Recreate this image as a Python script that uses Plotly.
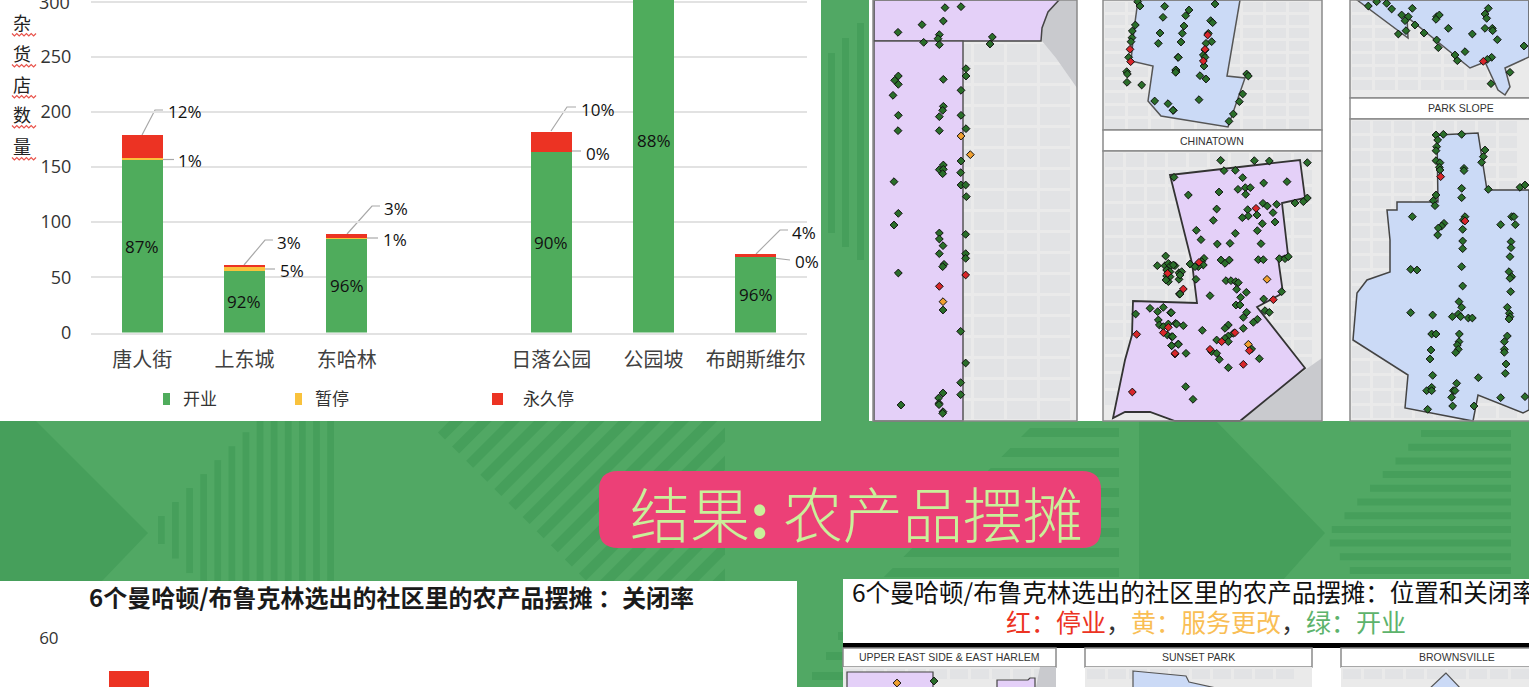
import plotly.graph_objects as go

W, H = 1529, 687
# ---------- chart data ----------
categories = ["唐人街", "上东城", "东哈林", " ", "日落公园", "公园坡", "布朗斯维尔"]
open_values = [156, 56, 85.5, None, 164, 348, 68]
paused_values = [2, 3.5, 0.5, None, 0, 0, 0]
closed_values = [21, 1.5, 3, None, 18, 47, 3]
open_labels = ["87%", "92%", "96%", None, "90%", "88%", "96%"]
y_ticks = [0, 50, 100, 150, 200, 250, 300]
closure_values = [54.5]
axis_title_chars = ["杂", "货", "店", "数", "量"]

# callout labels: text, label centre, leader-line vertices (page pixels)
callouts = [
    ("12%", 185, 111, [(142, 135), (155, 110), (163, 110)]),
    ("1%", 190, 160, [(163, 159.5), (174, 159.5)]),
    ("3%", 289, 242, [(244, 265), (265, 240), (273, 240)]),
    ("5%", 292, 270, [(265, 269), (275, 269)]),
    ("3%", 396, 208, [(347, 234), (372, 206), (380, 206)]),
    ("1%", 395, 239, [(367, 238), (378, 238)]),
    ("10%", 598, 109, [(551, 131), (567, 107), (576, 107)]),
    ("0%", 598, 153, [(572, 151), (581, 151)]),
    ("4%", 804, 232, [(756, 254), (780, 230), (788, 230)]),
    ("0%", 807, 261, [(756, 256), (790, 260)]),
]

green_a = [(375,23),(423,20),(370,63),(306,74),(234,97),(358,104),(354,116),(311,127),(358,134),(517,111),(510,132),(438,206),(438,228),(235,228),(224,241),(235,253),(370,238),(423,271),(219,286),(370,319),(368,331),(235,346),(358,350),(423,346),(234,392),(358,392),(438,386),(423,483),(370,495),(358,509),(370,508),(368,521),(422,518),(222,545),(423,555),(437,555),(439,590),(235,640),(222,675),(358,699),(358,717),(437,703),(369,737),(358,761),(437,761),(437,775),(372,793),(368,800),(235,819),(369,930),(422,994),(437,1089),(422,1148),(369,1179),(422,1184),(356,1194),(357,1210),(243,1215),(357,1214),(369,1235),(368,1240),
 (953,5),(960,18),(1034,19),(1029,52),(946,75),(937,93),(1020,99),(936,113),(933,125),(1015,130),(926,172),(1074,172),(1068,210),(1068,216),(920,215),(922,222),(921,247),(965,255),(1004,303),(1044,311),(1060,331),
 (1037,768),(1012,797),(1035,797),(1045,790),(1052,797),(1065,797),(1040,810),(1050,815),(1040,828),(1050,830),(1045,845),(1038,840),(1077,818),(1077,838),(1078,882),(947,942),(990,925),(1013,935),(1030,922),(1052,938),(1015,960),(1018,975),(1030,980),(1045,972),(1067,970),(1042,1005),(1055,1010),(1075,1032),(1055,1037)]
orange_a = [(423,408),(451,464),(369,905)]
red_a = [(437,825),(358,859),(930,148),(932,185),(950,1003),(1030,998),(1045,982),(1065,1062),(937,1176),(1043,820)]
green_b = [(57,30),(47,47),(42,78),(37,100),(33,126),(25,172),(17,210),(17,217),(122,62),(128,68),(115,100),(125,125),(108,130),(105,150),(100,165),(105,172),(102,198),(90,227),(108,237),(230,222),(235,228),(218,282),(208,305),(190,342),(177,364),(87,299),(9,331),(135,12),
 (152,481),(253,482),(298,483),(412,488),(162,512),(196,511),(12,532),(218,533),(281,549),(351,545),(204,568),(226,563),(241,563),(147,576),(227,583),(55,585),(412,594),(400,605),(375,609),(320,613),(279,610),(292,618),(140,627),(233,629),(309,638),(261,645),(235,648),(217,653),(130,661),(315,666),(277,671),(262,692),(79,691),(196,700),(93,719),(142,732),(180,730),(273,731),(102,775),(95,785),(100,795),(85,800),(60,792),(75,800),(153,780),(165,790),(178,780),(265,779),(280,779),(328,776),(345,776),(355,770),(10,795),(35,815),(30,825),(78,838),(168,842),(183,842),(197,845),(205,848),(200,868),(229,877),(120,887),(212,892),(335,875),(281,897),(198,915),(210,915),(230,937),(220,952),(285,932),(298,937),(262,958),(250,967),(4,938),(220,985),(175,975),(165,985),(97,991),(40,977),(20,972),(8,1010),(175,1008),(190,1000),(165,1015),(175,1025),(140,1020),(25,1033),(5,1037),(48,1060),(125,1055),(140,1060),(148,1078),(245,1047),(268,1076),(175,1103),(47,1160),(69,1198),(30,882),
 (595,18),(620,5),(650,10),(665,27),(727,25),(695,45),(715,50),(705,62),(735,75),(685,102),(708,92),(762,99),(800,120),(805,143),(800,50),(808,45),(798,58),(835,85),(907,102),(945,42),(950,55),(945,85),(967,85),(968,92),(982,119),(855,165),(885,155),(862,182),(965,172),(952,178),(1020,217),(963,251),(1062,138),(955,25),
 (798,405),(820,403),(875,403),(803,420),(800,440),(798,452),(798,482),(810,488),(808,502),(810,510),(945,450),(940,470),(935,487),(882,505),(882,512),(875,565),(955,568),(1050,562),(1065,555),(875,593),(798,585),(790,602),(795,617),(727,650),(885,650),(880,660),(878,688),(992,674),(1025,650),(1032,650),(1036,674),(822,670),(815,678),(805,684),(803,705),(878,723),(878,746),(1023,725),(1023,743),(1020,770),(875,800),(722,808),(741,810),(1017,815),(1025,830),(1020,835),(878,858),(1022,875),(867,905),(875,922),(1012,922),(722,938),(788,945),(865,942),(872,950),(847,950),(895,954),(907,954),(1018,940),(1020,950),(1017,957),(785,1002),(798,1002),(868,1002),(1012,1008),(867,1025),(862,1035),(1003,1025),(1003,1048),(1003,1057),(865,1048),(857,1058),(783,1050),(780,1077),(1008,1092),(1006,1120),(788,1126),(925,1133),(860,1150),(785,1162),(770,1172),(785,1172),(850,1172),(855,1172),(845,1192),(848,1218),(992,1193),(912,1218),(773,1228),(1065,1190)]
orange_b = [(291,838),(235,1033)]
red_b = [(113,105),(105,148),(100,183),(258,625),(87,787),(40,867),(310,899),(195,998),(155,1025),(120,1048),(15,1060),(238,1052),(220,1093),(940,184),(885,663),(812,530)]
bottom_green = [(934,681)]
bottom_orange = [(897,683)]


def page(a=(), b=(), extra=()):
    pts = [(820 + x / 3, y / 3) for x, y in a] + [(1170 + x / 3, y / 3) for x, y in b] + list(extra)
    return [p[0] for p in pts], [p[1] for p in pts]


# ---------- colours ----------
BG = "#51A864"
DARK = "#469F5B"
GREEN, YELLOW, RED = "#4FAC5C", "#F9C23C", "#EC3323"
PURPLE, BLUE = "#E4D0F8", "#CBDAF6"
MAP = "#EAEAEA"
CJK = "Noto Sans CJK SC"
LAT = "Open Sans"
NARROW = "Liberation Sans"

shapes, ann = [], []


def rect(x0, y0, x1, y1, fill, line=None, lw=1.5):
    shapes.append(dict(type="rect", xref="x", yref="y", x0=x0, y0=y0, x1=x1, y1=y1, fillcolor=fill,
                       line=dict(color=line or "rgba(0,0,0,0)", width=lw if line else 0), layer="below"))


def poly(pts, fill, line=None, lw=1.5):
    d = "M" + " L".join(f"{x},{y}" for x, y in pts) + " Z"
    shapes.append(dict(type="path", xref="x", yref="y", path=d, fillcolor=fill,
                       line=dict(color=line or "rgba(0,0,0,0)", width=lw if line else 0), layer="below"))


def seg(pts, color, lw=1.0):
    d = "M" + " L".join(f"{x},{y}" for x, y in pts)
    shapes.append(dict(type="path", xref="x", yref="y", path=d, line=dict(color=color, width=lw), layer="below"))


def text(x, y, s, size, color="#222222", font=CJK, anchor="center", weight=None):
    f = dict(family=font, size=size, color=color)
    if weight:
        f["weight"] = weight
    ann.append(dict(x=x, y=y, xref="x", yref="y", text=s, showarrow=False, font=f, xanchor=anchor, yanchor="middle"))


# ---------- background ----------
rect(0, 0, W, H, BG)
poly([(36, 421), (148, 533), (102, 581), (0, 581), (0, 421)], DARK)
poly([(1139, 421), (1216, 421), (1325, 533), (1282, 581), (1139, 581)], DARK)
for k in range(13):
    x = 158 + k * 14.1
    top = max(421, 516 - (x - 158) * 0.99)
    bot = min(581, 544 + (x - 158) * 1.03)
    rect(x, top, x + 6.7, bot, DARK)


def stripe_end(c):
    x = c - 421
    return (x, 421) if x <= 725 else (725, c - 725)


def stripe_start(px, py):
    return (px, py) if py <= 581 else (px + py - 581, 581)


for k in range(16):
    px, py = 438 + 14.1 * k, 432.5 + 14.1 * k
    c1, c2 = px + py, px + py + 14
    if c1 - 581 > 725:
        break
    e1, e2 = stripe_end(c1), stripe_end(c2)
    pts = [stripe_start(px, py), e1]
    if e1[1] == 421 and e2[0] == 725:
        pts.append((725, 421))
    pts += [e2, stripe_start(px + 7, py + 7)]
    poly(pts, DARK)
for k in range(8):
    y = 428 + k * 20
    xl = 1030 - (y - 428) * 0.98
    poly([(xl, y), (1119, y), (1119, y + 9), (xl - 9, y + 9)], DARK)
for k in range(12):
    y = 430 + k * 13.7
    xl = 1421 - (y - 430) * 0.93 if y < 533 else 1325 + (y - 533) * 0.73
    rect(xl, y, 1511, y + 7, DARK)
for x, a, b in [(828, 53, 233), (842, 38, 247), (857, 23, 260)]:
    rect(x, a, x + 7, b, DARK)
for y, x0 in [(632, 838), (652, 826), (672, 812)]:
    rect(x0, y, 843, y + 8, DARK)

# ---------- white panels ----------
rect(0, 0, 821, 421, "white")
rect(869, 0, W, 421, "white")
rect(0, 581, 797, H, "white")
rect(843, 579, W, H, "white")


def blocks(x0, y0, x1, y1, bw, bh, gap=3):
    parts, y = [], y0 + 2
    while y + bh < y1:
        x = x0 + 2
        while x + bw < x1:
            parts.append(f"M{x},{y} L{x + bw},{y} L{x + bw},{y + bh} L{x},{y + bh} Z")
            x += bw + gap
        y += bh + gap
    shapes.append(dict(type="path", xref="x", yref="y", path=" ".join(parts), fillcolor="#E2E3E5",
                       line=dict(width=0), layer="below"))


def map_base(x0, y0, x1, y1, bw=24, bh=13):
    rect(x0, y0, x1, y1, MAP)
    blocks(x0, y0, x1, y1, bw, bh)


# ---------- upper maps ----------
map_base(873, 0, 1077, 421, 30, 18)
poly([(1059, 0), (1048, 12), (1042, 28), (1042, 41), (1056, 58), (1077, 88), (1077, 0)], "#C9CACE")
poly([(874, 0), (1059, 0), (1048, 12), (1042, 28), (1041, 41), (874, 41)], PURPLE, "#444444", 1.5)
poly([(874, 41), (963, 41), (963, 421), (874, 421)], PURPLE, "#555555", 1.5)
rect(873, 0, 1077, 421, "rgba(0,0,0,0)", "#8A8A8A", 1.5)

map_base(1103, 0, 1322, 130, 20, 10)
poly([(1138, 0), (1134, 30), (1131, 61), (1153, 66), (1148, 101), (1161, 116), (1228, 127), (1245, 78),
      (1227, 76), (1240, 0)], BLUE, "#555555", 1.5)
rect(1103, 0, 1322, 130, "rgba(0,0,0,0)", "#8A8A8A", 1.5)
rect(1103, 130, 1322, 151, "white", "#8A8A8A", 1.5)
map_base(1103, 151, 1322, 421, 18, 14)
poly([(1240, 421), (1305, 370), (1322, 358), (1322, 421)], "#C9CACE")
poly([(1170, 175), (1300, 160), (1305, 198), (1282, 203), (1288, 255), (1278, 258), (1283, 293), (1257, 307),
      (1305, 368), (1240, 421), (1175, 421), (1150, 412), (1125, 412), (1113, 418), (1125, 360), (1132, 335),
      (1133, 301), (1197, 303), (1192, 263)], PURPLE, "#333333", 1.8)
rect(1103, 151, 1322, 421, "rgba(0,0,0,0)", "#8A8A8A", 1.5)

map_base(1350, 0, W + 2, 98, 20, 10)
poly([(1357, 0), (1408, 38), (1407, 17), (1470, 68), (1485, 62), (1498, 90), (1505, 95), (1510, 87), (1505, 68),
      (1529, 57), (1529, 0)], BLUE, "#555555", 1.5)
rect(1350, 0, W + 2, 98, "rgba(0,0,0,0)", "#8A8A8A", 1.5)
rect(1350, 98, W + 2, 119, "white", "#8A8A8A", 1.5)
map_base(1350, 119, W + 2, 421, 18, 12)
poly([(1437, 135), (1478, 133), (1487, 190), (1529, 190), (1529, 410), (1523, 413), (1478, 395), (1473, 421),
      (1405, 408), (1408, 375), (1353, 340), (1357, 293), (1367, 280), (1390, 272), (1390, 240), (1387, 210),
      (1397, 210), (1397, 202), (1438, 202)], BLUE, "#444444", 1.5)
rect(1350, 119, W + 2, 421, "rgba(0,0,0,0)", "#8A8A8A", 1.5)

# ---------- lower maps ----------
rect(843, 643, W, 648, "black")
for x0, x1, cx, name in [(843, 1056, 949.5, "UPPER EAST SIDE &amp; EAST HARLEM"), (1085, 1312, 1198, "SUNSET PARK"),
                         (1341, W + 2, 1457, "BROWNSVILLE")]:
    rect(x0, 648, x1, 667, "white", "#8A8A8A", 1.5)
    map_base(x0, 667, x1, H + 2, 18, 10)
    text(cx, 657, name, 10.5, "#333333", NARROW)
poly([(1040, 667), (1056, 667), (1056, 687), (1036, 687)], "#C9CACE")
poly([(847, 672), (933, 672), (933, 690), (847, 690)], PURPLE, "#444444", 1.2)
poly([(997, 680), (1028, 680), (1030, 678), (1035, 678), (1035, 690), (997, 690)], PURPLE, "#444444", 1.2)
poly([(1133, 671), (1186, 676), (1189, 682), (1225, 690), (1133, 690)], BLUE, "#555555", 1.2)
poly([(1446, 673), (1428, 690), (1462, 690)], BLUE, "#555555", 1.2)

# ---------- title pill ----------
X0, Y0, X1, Y1, R = 599, 471, 1101, 548, 19
shapes.append(dict(type="path", xref="x", yref="y", fillcolor="#EC4077", line=dict(width=0), layer="below",
                   path=f"M{X0+R},{Y0} L{X1-R},{Y0} Q{X1},{Y0} {X1},{Y0+R} L{X1},{Y1-R} Q{X1},{Y1} {X1-R},{Y1} "
                        f"L{X0+R},{Y1} Q{X0},{Y1} {X0},{Y1-R} L{X0},{Y0+R} Q{X0},{Y0} {X0+R},{Y0} Z"))
text(856, 511, "结果<b>:</b> 农产品摆摊", 60, "#C9F09A", weight=300)

# ---------- texts ----------
text(391, 596, "6个曼哈顿/布鲁克林选出的社区里的农产品摆摊 ：关闭率", 24, "#1A1A1A", weight=700)
text(850, 591, "6个曼哈顿/布鲁克林选出的社区里的农产品摆摊：位置和关闭率", 24.5, "#111111", anchor="left")
text(1206, 621,
     f'<span style="color:{RED}">红：停业</span>，<span style="color:#F9BE55">黄：服务更改</span>，'
     f'<span style="color:#5DB36C">绿：开业</span>', 25, "#333333")
text(1212, 141, "CHINATOWN", 10.5, "#333333", NARROW)
text(1461, 108, "PARK SLOPE", 10.5, "#333333", NARROW)
text(72, 1.5, "300", 18, "#333333", LAT, anchor="right")

# axis title with spell-check underlines
for ch, y in zip(axis_title_chars, [24, 55, 86, 116, 148]):
    text(22, y - 2.5, ch, 18, "#222222")
    zz = [(12 + i * 2.4, y + 9.5 + (i % 2) * 2.4) for i in range(11)]
    seg(zz, "#E8524A", 1.2)

# legend
rect(163, 393, 170, 405, GREEN)
rect(295, 393, 302, 405, YELLOW)
rect(492, 393, 503, 405, RED)
text(200, 397.5, "开业", 17, "#333333")
text(332, 397.5, "暂停", 17, "#333333")
text(548, 397.5, "永久停", 17, "#333333")

# callouts
for label, lx, ly, pts in callouts:
    seg(pts, "#A8A8A8", 1.2)
    text(lx, ly, label, 17, "#111111", LAT)

# ---------- traces ----------
fig = go.Figure()


def dots(xs, ys, color, size=6):
    fig.add_trace(go.Scatter(x=xs, y=ys, mode="markers", xaxis="x", yaxis="y", hoverinfo="skip",
                             marker=dict(symbol="diamond", size=size, color=color,
                                         line=dict(color="#101010", width=1))))


gx, gy = page(green_a, green_b, bottom_green)
ox, oy = page(orange_a, orange_b, bottom_orange)
rx, ry = page(red_a, red_b)
dots(gx, gy, "#2A6E2A")
dots(ox, oy, "#F0A030")
dots(rx, ry, "#D8262A")

for vals, col, name in [(open_values, GREEN, "开业"), (paused_values, YELLOW, "暂停"), (closed_values, RED, "永久停")]:
    fig.add_trace(go.Bar(x=categories, y=vals, name=name, marker=dict(color=col, line=dict(width=0)), width=0.4,
                         xaxis="x2", yaxis="y2"))
fig.add_trace(go.Bar(x=categories[:1], y=closure_values, marker=dict(color=RED, line=dict(width=0)), width=0.4,
                     xaxis="x3", yaxis="y3"))

for c, v, s in zip(categories, open_values, open_labels):
    if s:
        ann.append(dict(x=c, y=v / 2, xref="x2", yref="y2", text=s, showarrow=False,
                        font=dict(family=LAT, size=17, color="#111111")))

GRID = "#E2E2E2"
fig.update_layout(
    width=W, height=H, margin=dict(l=0, r=0, t=0, b=0, autoexpand=False), autosize=False, showlegend=False,
    barmode="stack", paper_bgcolor=BG, plot_bgcolor="rgba(0,0,0,0)", shapes=shapes, annotations=ann,
    xaxis=dict(range=[0, W], visible=False, domain=[0, 1], fixedrange=True, automargin=False),
    yaxis=dict(range=[H, 0], visible=False, domain=[0, 1], fixedrange=True, automargin=False),
    xaxis2=dict(domain=[91 / W, 807 / W], anchor="y2", type="category", categoryorder="array", categoryarray=categories,
                range=[-0.5, 6.5], showgrid=False, showline=True, linecolor=GRID, linewidth=2, ticks="outside",
                ticklen=8, tickcolor="rgba(0,0,0,0)", tickfont=dict(family=CJK, size=20, color="#404040"),
                automargin=False),
    yaxis2=dict(domain=[1 - 332.5 / H, 1], anchor="x2", range=[0, 332.5 / 1.1033], tickvals=y_ticks, showgrid=True,
                gridcolor=GRID, gridwidth=2, zeroline=False, showline=False, ticks="outside", ticklen=15,
                tickcolor="rgba(0,0,0,0)", tickfont=dict(family=LAT, size=18, color="#333333"), automargin=False),
    xaxis3=dict(domain=[79 / W, 782 / W], anchor="y3", type="category", categoryorder="array", categoryarray=categories,
                range=[-0.5, 6.5], showticklabels=False, showgrid=False, showline=False, ticks="", automargin=False),
    yaxis3=dict(domain=[0, 49 / H], anchor="x3", range=[51.83, 60], tickvals=[60], showgrid=True, gridcolor=GRID,
                gridwidth=2, zeroline=False, ticks="outside", ticklen=16, tickcolor="rgba(0,0,0,0)",
                tickfont=dict(family=LAT, size=17, color="#333333"), automargin=False),
)
fig.write_html("out.html", config=dict(displayModeBar=False),
               post_script="document.body.style.margin='0';document.documentElement.style.overflow='hidden';")
